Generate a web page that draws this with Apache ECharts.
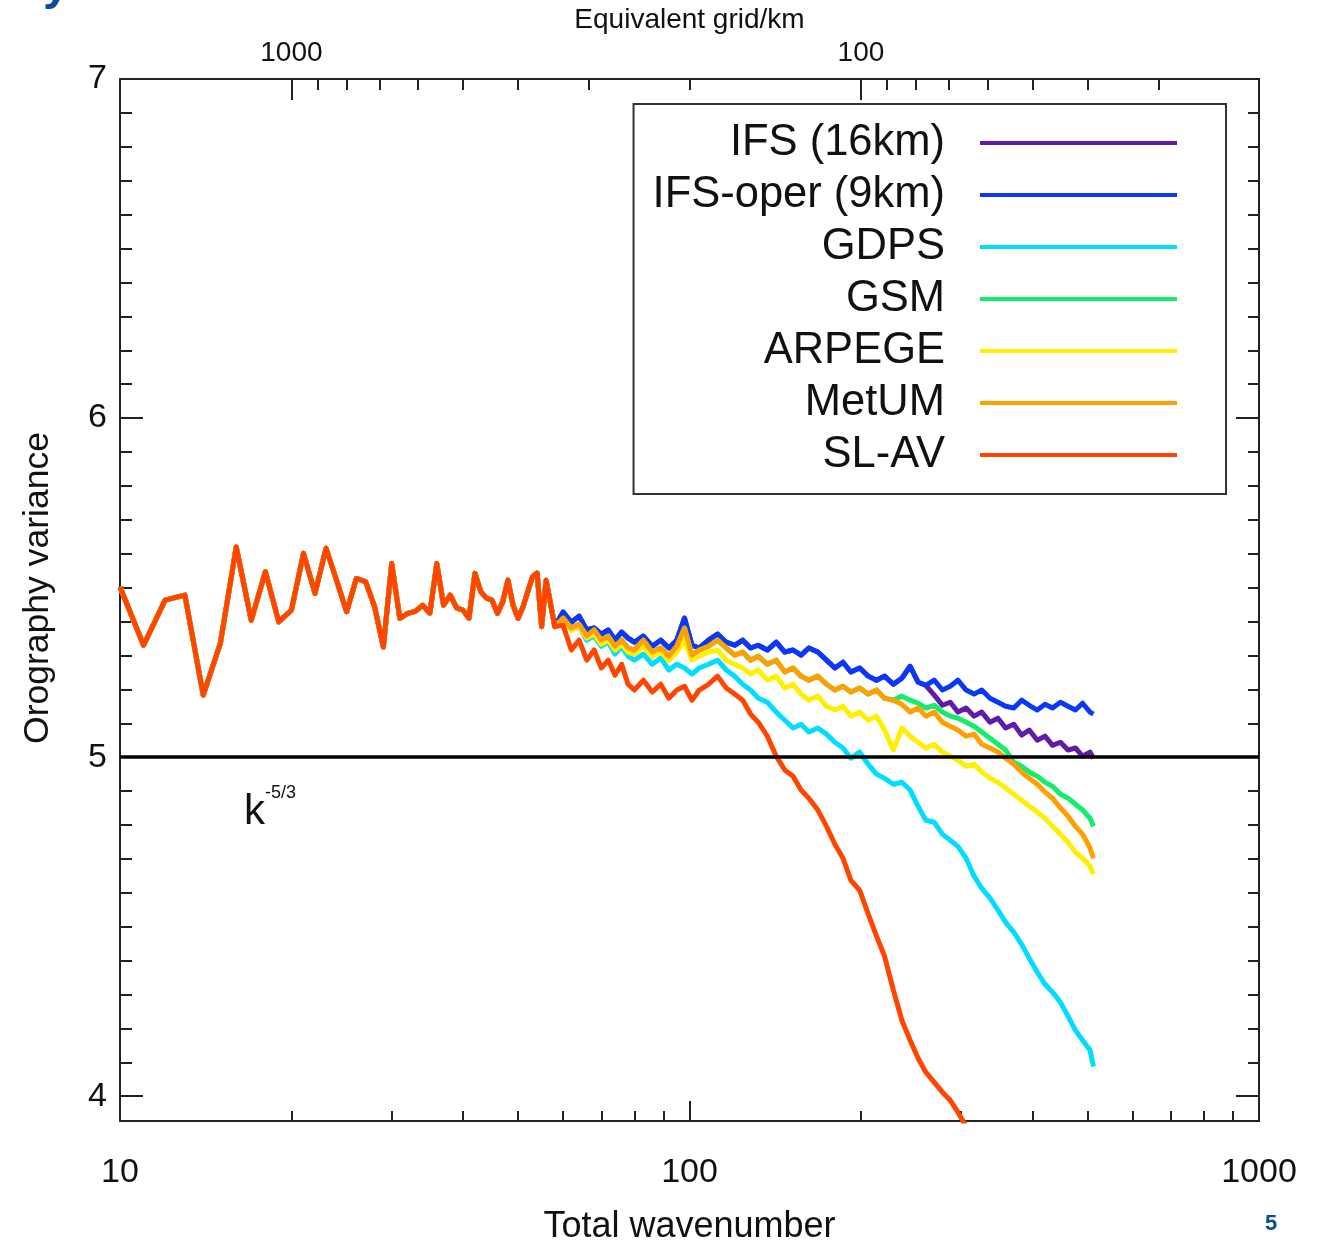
<!DOCTYPE html>
<html><head><meta charset="utf-8">
<script src="https://cdn.jsdelivr.net/npm/echarts@6/dist/echarts.min.js"></script>
<style>html,body{margin:0;padding:0;background:#fff}#c{width:1325px;height:1242px}</style>
</head><body><div id="c"></div>
<script>
// ---------- data ----------
const kLow = [10,11,12,13,14,15,16,17,18,19,20,21,22,23,24,25,26,27,28,29,30,31,32,33,34,35,36,37,38,39,40,41,42,43,44,45,46,47,48,49,50,51,52,53,54,55,56,57,58];
const valLow = [5.502,5.330,5.463,5.478,5.183,5.335,5.620,5.404,5.547,5.399,5.434,5.601,5.483,5.616,5.522,5.429,5.527,5.517,5.443,5.325,5.571,5.409,5.424,5.430,5.448,5.425,5.571,5.448,5.478,5.440,5.434,5.410,5.542,5.488,5.469,5.463,5.424,5.458,5.522,5.448,5.409,5.443,5.488,5.532,5.543,5.385,5.522,5.454,5.385];
const kHigh = [60,62,64,66,68,70,72,74,76,78,80,83,86,89,92,95,98,101,104,108,112,116,120,124,128,132,137,142,147,152,157,162,168,174,180,186,192,199,206,213,220,228,236,244,252,260,269,278,287,296,306,316,326,337,348,359,371,383,395,408,421,434,448,462,476,490,505,512];
const ifs16Tail = [5.428,5.398,5.416,5.375,5.381,5.363,5.375,5.345,5.369,5.351,5.339,5.357,5.327,5.345,5.322,5.345,5.410,5.330,5.322,5.345,5.363,5.339,5.330,5.345,5.322,5.330,5.316,5.339,5.310,5.316,5.301,5.322,5.310,5.286,5.263,5.280,5.251,5.263,5.239,5.227,5.239,5.215,5.233,5.268,5.221,5.212,5.183,5.153,5.162,5.133,5.145,5.121,5.133,5.103,5.115,5.086,5.097,5.065,5.080,5.050,5.062,5.035,5.044,5.021,5.027,5.003,5.015,4.997];
const ifsOperTail = [5.428,5.398,5.416,5.375,5.381,5.363,5.375,5.345,5.369,5.351,5.339,5.357,5.327,5.345,5.322,5.345,5.410,5.330,5.322,5.345,5.363,5.339,5.330,5.345,5.322,5.330,5.316,5.339,5.310,5.316,5.301,5.322,5.310,5.286,5.263,5.280,5.251,5.263,5.239,5.227,5.239,5.215,5.233,5.268,5.221,5.212,5.227,5.198,5.209,5.227,5.198,5.186,5.198,5.174,5.162,5.150,5.145,5.168,5.153,5.139,5.156,5.145,5.162,5.150,5.139,5.159,5.133,5.127];
const gdpsTail = [5.404,5.375,5.386,5.345,5.357,5.327,5.339,5.304,5.327,5.298,5.286,5.304,5.274,5.292,5.257,5.274,5.263,5.245,5.263,5.274,5.286,5.257,5.239,5.215,5.198,5.174,5.162,5.133,5.109,5.086,5.097,5.074,5.086,5.068,5.044,5.027,4.997,5.015,4.979,4.950,4.938,4.920,4.926,4.903,4.855,4.814,4.808,4.773,4.755,4.737,4.702,4.649,4.613,4.584,4.549,4.513,4.484,4.448,4.407,4.366,4.330,4.307,4.277,4.236,4.195,4.165,4.136,4.088];
const gsmTail = [5.410,5.381,5.392,5.357,5.375,5.345,5.357,5.327,5.345,5.322,5.316,5.345,5.310,5.322,5.298,5.327,5.381,5.301,5.316,5.327,5.345,5.322,5.301,5.310,5.286,5.298,5.274,5.286,5.251,5.263,5.239,5.227,5.239,5.215,5.198,5.209,5.192,5.204,5.186,5.198,5.174,5.168,5.180,5.168,5.159,5.145,5.153,5.133,5.121,5.115,5.103,5.091,5.074,5.056,5.038,5.021,4.985,4.973,4.956,4.944,4.926,4.914,4.891,4.879,4.861,4.844,4.820,4.796];
const arpegeTail = [5.404,5.375,5.386,5.351,5.363,5.333,5.345,5.316,5.333,5.310,5.304,5.327,5.298,5.310,5.286,5.310,5.345,5.286,5.298,5.310,5.316,5.286,5.274,5.263,5.245,5.257,5.227,5.239,5.204,5.215,5.186,5.168,5.180,5.150,5.139,5.150,5.121,5.133,5.109,5.121,5.080,5.021,5.086,5.062,5.044,5.027,5.038,5.015,5.003,4.991,4.973,4.979,4.956,4.938,4.926,4.909,4.891,4.873,4.855,4.838,4.820,4.796,4.773,4.749,4.720,4.702,4.679,4.655];
const metumTail = [5.410,5.381,5.392,5.357,5.375,5.345,5.357,5.327,5.345,5.322,5.316,5.345,5.310,5.322,5.298,5.327,5.381,5.301,5.316,5.327,5.345,5.322,5.301,5.310,5.286,5.298,5.274,5.286,5.251,5.263,5.239,5.227,5.239,5.215,5.198,5.209,5.192,5.204,5.186,5.198,5.174,5.168,5.156,5.133,5.145,5.121,5.133,5.103,5.091,5.080,5.062,5.068,5.038,5.027,5.015,4.997,4.979,4.956,4.938,4.920,4.897,4.879,4.850,4.826,4.796,4.773,4.732,4.702];
const slavTail = [5.389,5.316,5.345,5.286,5.316,5.263,5.286,5.242,5.274,5.215,5.198,5.227,5.192,5.215,5.174,5.198,5.209,5.168,5.198,5.215,5.239,5.204,5.186,5.168,5.127,5.103,5.062,5.003,4.962,4.944,4.903,4.879,4.844,4.796,4.743,4.702,4.637,4.607,4.537,4.472,4.413,4.313,4.224,4.165,4.112,4.071,4.041,4.012,3.988,3.953,3.911];

const seriesNames = ['IFS (16km)','IFS-oper (9km)','GDPS','GSM','ARPEGE','MetUM','SL-AV'];
const seriesTails = [ifs16Tail, ifsOperTail, gdpsTail, gsmTail, arpegeTail, metumTail, slavTail];
const seriesColors = ['#5F1BAA','#0A38F8','#00DDFF','#12EE6C','#FFF000','#FFA000','#FF4500'];

const xLabels = [10,100,1000];
const xMajorTicks = [100];
const xMinorTicks = [20,30,40,50,60,70,80,90,200,300,400,500,600,700,800,900];
const topLabels = [1000,100];
const topMajorTicks = [1000,100];
const topMinorTicks = [900,800,700,600,500,400,300,200,90,80,70,60,50,40,30];
const yLabels = [4,5,6,7];
const yMinorTicks = [4.1,4.2,4.3,4.4,4.5,4.6,4.7,4.8,4.9,5.1,5.2,5.3,5.4,5.5,5.6,5.7,5.8,5.9,6.1,6.2,6.3,6.4,6.5,6.6,6.7,6.8,6.9];
const refLevel = 5;

// ---------- chart ----------
const FONT = 'Liberation Sans';
const AX = '#222';
const chart = echarts.init(document.getElementById('c'), null, {renderer: 'canvas'});
const fmt = v => String(Math.round(v));

function xAx(extra) {
  return Object.assign({
    type: 'log', logBase: 10, min: 10, max: 1000, gridIndex: 0,
    axisLine: {show: false, onZero: false, lineStyle: {color: AX, width: 2}},
    axisTick: {show: true, inside: true, lineStyle: {color: AX, width: 2}},
    axisLabel: {show: false},
    splitLine: {show: false}, minorTick: {show: false}, minorSplitLine: {show: false}
  }, extra);
}
function yAx(extra) {
  return Object.assign({
    type: 'value', min: 3.927, max: 7, gridIndex: 0,
    axisLine: {show: false, onZero: false, lineStyle: {color: AX, width: 2}},
    axisTick: {show: true, inside: true, lineStyle: {color: AX, width: 2}},
    axisLabel: {show: false},
    splitLine: {show: false}
  }, extra);
}

const series = seriesNames.map((name, si) => {
  const tail = seriesTails[si];
  const data = kLow.map((k, i) => [k, valLow[i]])
    .concat(tail.map((v, i) => [kHigh[i], v]));
  const s = {
    name, type: 'line', xAxisIndex: 0, yAxisIndex: 0, data,
    showSymbol: false, symbol: 'none', clip: true, z: 2 + si,
    lineStyle: {color: seriesColors[si], width: 5, join: 'round'},
    itemStyle: {color: seriesColors[si]},
    emphasis: {disabled: true}
  };
  if (si === seriesNames.length - 1) {
    s.markLine = {
      silent: true, symbol: 'none', label: {show: false}, z: 20,
      lineStyle: {color: '#000', width: 3.5, type: 'solid'},
      data: [{yAxis: refLevel}]
    };
  }
  return s;
});

chart.setOption({
  backgroundColor: '#fff',
  animation: false,
  textStyle: {fontFamily: FONT},
  grid: {left: 120, top: 79, width: 1139, height: 1042, containLabel: false, outerBoundsMode: 'none'},
  legend: {
    orient: 'vertical', right: 99, top: 104, align: 'right',
    padding: [17, 49, 17, 19], itemGap: 8,
    itemWidth: 197, itemHeight: 4, icon: 'rect',
    borderColor: '#333', borderWidth: 2, backgroundColor: '#fff',
    selectedMode: false,
    textStyle: {fontFamily: FONT, fontSize: 43.5, lineHeight: 44, color: '#111', padding: [0, 30, 0, 0]},
    data: seriesNames.map((n, i) => ({name: n, itemStyle: {color: seriesColors[i]}}))
  },
  xAxis: [
    xAx({position: 'bottom',
      axisLine: {show: true, onZero: false, lineStyle: {color: AX, width: 2}},
      axisTick: {show: true, inside: true, length: 20, customValues: xMajorTicks, lineStyle: {color: AX, width: 2}},
      axisLabel: {show: true, customValues: xLabels, formatter: fmt, fontSize: 34, color: '#111', margin: 35, fontFamily: FONT},
      name: 'Total wavenumber', nameLocation: 'middle', nameGap: 88,
      nameTextStyle: {fontSize: 36, color: '#111', fontFamily: FONT}
    }),
    xAx({position: 'bottom',
      axisTick: {show: true, inside: true, length: 10, customValues: xMinorTicks, lineStyle: {color: AX, width: 2}}
    }),
    xAx({position: 'top', min: 20, max: 2000, inverse: true,
      axisLine: {show: true, onZero: false, lineStyle: {color: AX, width: 2}},
      axisTick: {show: true, inside: true, length: 21, customValues: topMajorTicks, lineStyle: {color: AX, width: 2}},
      axisLabel: {show: true, customValues: topLabels, formatter: fmt, fontSize: 28, color: '#111', margin: 12, fontFamily: FONT},
      name: 'Equivalent grid/km', nameLocation: 'middle', nameGap: 45,
      nameTextStyle: {fontSize: 28, color: '#111', fontFamily: FONT}
    }),
    xAx({position: 'top', min: 20, max: 2000, inverse: true,
      axisTick: {show: true, inside: true, length: 11, customValues: topMinorTicks, lineStyle: {color: AX, width: 2}}
    })
  ],
  yAxis: [
    yAx({position: 'left',
      axisLine: {show: true, onZero: false, lineStyle: {color: AX, width: 2}},
      axisTick: {show: true, inside: true, length: 23, customValues: yLabels, lineStyle: {color: AX, width: 2}},
      axisLabel: {show: true, customValues: yLabels, formatter: fmt, fontSize: 34, color: '#111', margin: 13, fontFamily: FONT},
      name: 'Orography variance', nameLocation: 'middle', nameGap: 64,
      nameTextStyle: {fontSize: 35.5, color: '#111', fontFamily: FONT, padding: [0, 0, 0, 24]}
    }),
    yAx({position: 'left',
      axisTick: {show: true, inside: true, length: 12, customValues: yMinorTicks, lineStyle: {color: AX, width: 2}}
    }),
    yAx({position: 'right',
      axisLine: {show: true, onZero: false, lineStyle: {color: AX, width: 2}},
      axisTick: {show: true, inside: true, length: 23, customValues: yLabels, lineStyle: {color: AX, width: 2}}
    }),
    yAx({position: 'right',
      axisTick: {show: true, inside: true, length: 11, customValues: yMinorTicks, lineStyle: {color: AX, width: 2}}
    })
  ],
  graphic: [
    {type: 'text', left: 244, top: 791, z: 50, style: {text: 'k', fontSize: 42, fontFamily: FONT, fill: '#111'}},
    {type: 'text', left: 265, top: 784, z: 50, style: {text: '-5/3', fontSize: 18, fontFamily: FONT, fill: '#111'}},
    {type: 'text', left: 1265, top: 1213, z: 50, style: {text: '5', fontSize: 22, fontWeight: 'bold', fontFamily: FONT, fill: '#0B4F8C'}},
    {type: 'text', left: 43, top: -38, z: 50, style: {text: 'y', fontSize: 48, fontWeight: 'bold', fontFamily: FONT, fill: '#0B4F8C'}}
  ],
  series
});
</script>
</body></html>
